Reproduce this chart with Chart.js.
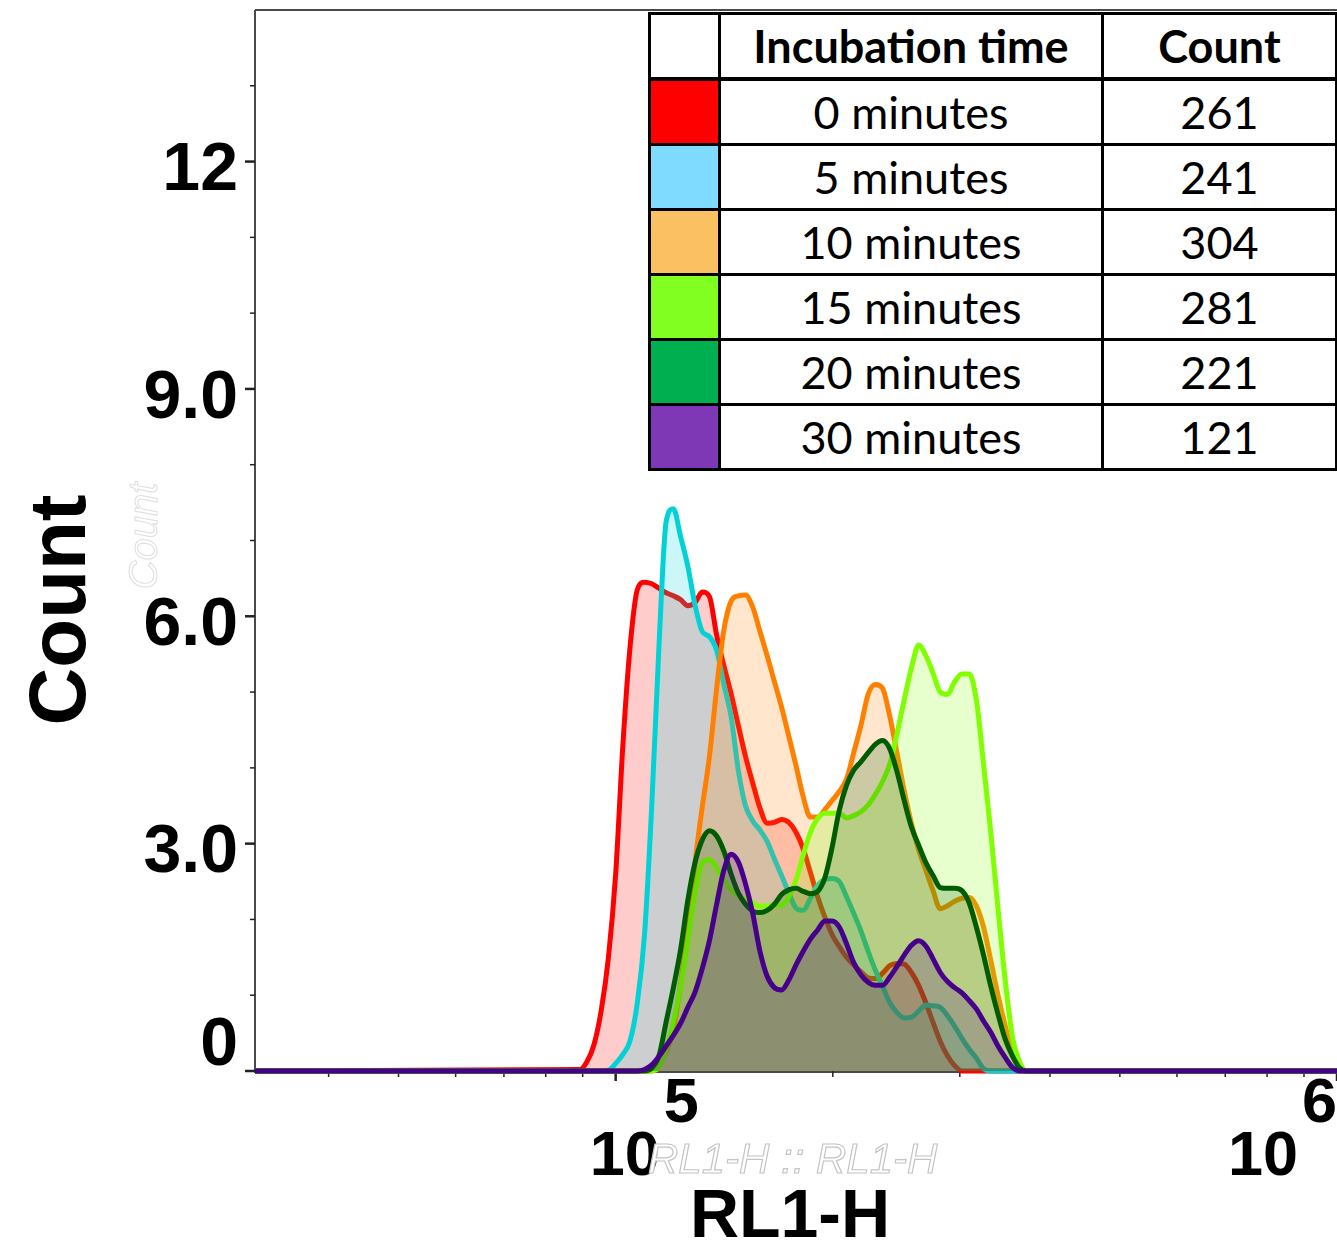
<!DOCTYPE html>
<html>
<head>
<meta charset="utf-8">
<script src="https://cdn.jsdelivr.net/npm/chart.js@4.4.1/dist/chart.umd.min.js"></script>
<style>
html,body{margin:0;padding:0;background:#fff;}
#wrap{position:relative;width:1337px;height:1244px;overflow:hidden;background:#fff;}
#c{position:absolute;left:0;top:0;}
#legend{position:absolute;left:648px;top:12px;width:687px;border-collapse:collapse;font-family:Lato,"Open Sans",sans-serif;font-size:45px;color:#000;background:#fff;table-layout:fixed;}
#legend td,#legend th{border:3.5px solid #000;padding:0;text-align:center;vertical-align:middle;line-height:1;}
#legend th{height:62px;font-weight:bold;border-bottom-width:4.5px;}
#legend td{height:62px;}
#legend td.sw{padding:0;}
</style>
</head>
<body>
<div id="wrap">
<canvas id="c" width="1337" height="1244"></canvas>
<table id="legend"><colgroup><col style="width:70px"><col style="width:383px"><col style="width:234px"></colgroup><tbody id="lbody"></tbody></table>
</div>
<script>
// ---- data ----
const bins = [89125, 91201, 93325, 95499, 97724, 100000, 102329, 104713, 107152, 109648,
  112202, 114815, 117490, 120226, 123027, 125893, 128825, 131826, 134896, 138038,
  141254, 144544, 147911, 151356, 154882, 158489, 162181, 165959, 169824, 173780,
  177828, 181970, 186209, 190546, 194984, 199526, 204174, 208930, 213796, 218776,
  223872, 229087, 234423, 239883, 245471, 251189, 257040, 263027, 269153, 275423,
  281838, 288403, 295121, 301995, 309030, 316228, 323594, 331131, 338844, 346737,
  354813, 363078, 371535];

const min0 = [0.02,0.12,0.35,0.8,1.5,2.6,4.3,5.6,6.35,6.45,
  6.43,6.37,6.31,6.27,6.22,6.14,6.18,6.32,6.26,5.75,
  5.35,4.98,4.56,4.15,3.8,3.47,3.27,3.28,3.32,3.28,
  3.15,2.93,2.62,2.3,2.03,1.8,1.64,1.5,1.4,1.31,
  1.23,1.22,1.29,1.39,1.42,1.41,1.3,1.13,0.9,0.64,
  0.39,0.2,0.07,0,0,0,0,0,0,0,
  0,0,0];
const min5 = [0,0,0,0,0.01,0.1,0.22,0.4,0.9,1.8,
  3.5,5.6,7.25,7.42,7.05,6.66,6.15,5.8,5.73,5.55,
  5.1,4.68,3.97,3.5,3.3,3.18,3.03,2.8,2.58,2.35,
  2.15,2.12,2.28,2.45,2.53,2.54,2.5,2.3,2.08,1.85,
  1.58,1.33,1.12,0.9,0.77,0.7,0.71,0.79,0.87,0.86,
  0.84,0.73,0.59,0.43,0.29,0.17,0.03,0,0,0,
  0,0,0];
const min10 = [0,0,0,0,0,0,0,0,0,0,
  0,0.08,0.25,0.55,1.15,1.9,2.75,3.48,4.15,5.05,
  5.82,6.2,6.27,6.28,6.12,5.8,5.48,5.14,4.8,4.42,
  4.03,3.62,3.35,3.35,3.45,3.57,3.69,3.85,4.2,4.56,
  4.97,5.1,5.05,4.68,4.2,3.7,3.27,2.92,2.65,2.38,
  2.14,2.18,2.24,2.28,2.29,2.18,1.9,1.46,1.0,0.6,
  0.25,0.05,0];
const min15 = [0,0,0,0,0,0,0,0,0,0,
  0,0.05,0.28,0.65,1.12,1.72,2.35,2.75,2.79,2.68,
  2.53,2.39,2.31,2.27,2.22,2.17,2.18,2.19,2.19,2.3,
  2.52,2.85,3.15,3.33,3.4,3.4,3.4,3.34,3.37,3.42,
  3.51,3.65,3.82,4.05,4.45,4.9,5.32,5.62,5.48,5.25,
  5.0,4.97,5.14,5.24,5.24,4.9,4.05,3.15,2.15,1.2,
  0.45,0.12,0];
const min20 = [0,0,0,0,0,0,0,0,0,0,
  0.04,0.2,0.65,1.1,1.6,2.25,2.75,3.05,3.17,3.1,
  2.9,2.6,2.35,2.2,2.11,2.09,2.12,2.2,2.33,2.39,
  2.41,2.37,2.34,2.37,2.55,2.95,3.44,3.77,3.97,4.08,
  4.2,4.31,4.36,4.25,3.95,3.57,3.22,2.98,2.75,2.58,
  2.42,2.41,2.41,2.38,2.22,1.9,1.53,1.12,0.75,0.42,
  0.2,0.04,0];
const min30 = [0,0,0,0,0,0,0,0,0,0.02,
  0.08,0.19,0.33,0.47,0.63,0.84,1.04,1.35,1.72,2.2,
  2.65,2.86,2.76,2.47,2.08,1.58,1.25,1.1,1.07,1.2,
  1.4,1.58,1.74,1.86,1.98,1.98,1.9,1.68,1.43,1.27,
  1.17,1.13,1.13,1.24,1.38,1.53,1.66,1.72,1.65,1.48,
  1.3,1.18,1.1,1.03,0.93,0.82,0.66,0.51,0.33,0.18,
  0.05,0,0];

const seriesNames = ['0 minutes','5 minutes','10 minutes','15 minutes','20 minutes','30 minutes'];
const seriesCounts = ['261','241','304','281','221','121'];
const xRange = [31622.8, 1000000];
const yRange = [0, 14];
const yMajorTicks = [0, 3, 6, 9, 12];
const yTickLabels = ['0', '3.0', '6.0', '9.0', '12'];
const yMinorTicks = [1, 2, 4, 5, 7, 8, 10, 11, 13];
const xMajorTicks = [100000, 1000000];
const xMajorExp = ['5', '6'];
const xMinorTicks = [40000, 50000, 60000, 70000, 80000, 90000, 200000, 300000, 400000, 500000, 600000, 700000, 800000, 900000];

// ---- styles ----
const lineColors = ['#ff0000', '#00d2d6', '#ff8000', '#80ff00', '#005c00', '#46008c'];
const fillColors = ['rgba(255,0,0,0.2)', 'rgba(0,210,214,0.2)', 'rgba(255,128,0,0.2)', 'rgba(128,255,0,0.2)', 'rgba(0,92,0,0.2)', 'rgba(70,0,140,0.2)'];
const swatchColors = ['#ff0000', '#7fdbff', '#fac062', '#80ff20', '#00b050', '#7f38b5'];
const allSeries = [min0, min5, min10, min15, min20, min30];

function toPoints(arr) {
  const pts = [{x: xRange[0], y: 0}];
  bins.forEach((b, i) => pts.push({x: b, y: arr[i]}));
  pts.push({x: xRange[1], y: 0});
  return pts;
}

const datasets = allSeries.map((arr, i) => ({
  label: seriesNames[i],
  data: toPoints(arr),
  borderColor: lineColors[i],
  backgroundColor: fillColors[i],
  borderWidth: 5,
  borderJoinStyle: 'round',
  fill: 'origin',
  pointRadius: 0,
  cubicInterpolationMode: 'monotone',
  order: allSeries.length - i,
  clip: 5
}));

const axesPlugin = {
  id: 'axesPlugin',
  beforeDatasetsDraw(chart) {
    const ctx = chart.ctx, a = chart.chartArea;
    const xs = chart.scales.x, ys = chart.scales.y;
    ctx.save();
    ctx.strokeStyle = '#4a4a4a';
    ctx.lineWidth = 2;
    ctx.beginPath();
    ctx.moveTo(a.left, a.top); ctx.lineTo(a.left, a.bottom + 2);
    ctx.moveTo(a.left, a.top); ctx.lineTo(a.right, a.top);
    ctx.moveTo(a.left, a.bottom + 1); ctx.lineTo(a.right, a.bottom + 1);
    ctx.stroke();
    ctx.strokeStyle = '#222';
    yMajorTicks.forEach(v => {
      const y = ys.getPixelForValue(v);
      ctx.lineWidth = 2.5;
      ctx.beginPath(); ctx.moveTo(a.left - 10, y); ctx.lineTo(a.left, y); ctx.stroke();
    });
    yMinorTicks.forEach(v => {
      const y = ys.getPixelForValue(v);
      ctx.lineWidth = 1.5;
      ctx.beginPath(); ctx.moveTo(a.left - 5, y); ctx.lineTo(a.left, y); ctx.stroke();
    });
    xMinorTicks.forEach(v => {
      const x = xs.getPixelForValue(v);
      ctx.lineWidth = 1.5;
      ctx.beginPath(); ctx.moveTo(x, a.bottom); ctx.lineTo(x, a.bottom + 6); ctx.stroke();
    });
    xMajorTicks.forEach(v => {
      const x = xs.getPixelForValue(v);
      ctx.lineWidth = 2.5;
      ctx.beginPath(); ctx.moveTo(x, a.bottom); ctx.lineTo(x, a.bottom + 10); ctx.stroke();
    });
    ctx.restore();
  },
  afterDraw(chart) {
    const ctx = chart.ctx, a = chart.chartArea;
    const xs = chart.scales.x, ys = chart.scales.y;
    ctx.save();
    ctx.fillStyle = '#000';
    ctx.font = 'bold 68px "Liberation Sans", Arial, sans-serif';
    ctx.textAlign = 'right';
    ctx.textBaseline = 'middle';
    yMajorTicks.forEach((v, i) => {
      const y = Math.min(ys.getPixelForValue(v) + 10, a.bottom - 25);
      ctx.fillText(yTickLabels[i], a.left - 17, y);
    });
    ctx.textAlign = 'left';
    ctx.textBaseline = 'alphabetic';
    ctx.font = 'bold 63px "Liberation Sans", Arial, sans-serif';
    xMajorTicks.forEach((v, i) => {
      const x = xs.getPixelForValue(v);
      const wBase = ctx.measureText('10').width;
      const wExp = ctx.measureText(xMajorExp[i]).width;
      const w = wBase + 4 + wExp;
      let left = x - 26;
      if (left + w > a.right) left = a.right - w;
      ctx.fillText('10', left, a.bottom + 104);
      ctx.fillText(xMajorExp[i], left + wBase + 4, a.bottom + 51);
    });
    // faint outlined ghost labels
    ctx.font = 'italic 42px "Liberation Sans", Arial, sans-serif';
    ctx.lineWidth = 1.2;
    ctx.strokeStyle = '#c4c4c4';
    ctx.fillStyle = '#fff';
    ctx.fillText('RL1-H :: RL1-H', 648, a.bottom + 102);
    ctx.strokeText('RL1-H :: RL1-H', 648, a.bottom + 102);
    ctx.save();
    ctx.translate(157, 536);
    ctx.rotate(-Math.PI / 2);
    ctx.textAlign = 'center';
    ctx.font = 'italic 40px "Liberation Sans", Arial, sans-serif';
    ctx.lineWidth = 1;
    ctx.strokeStyle = '#dedede';
    ctx.strokeText('Count', 0, 0);
    ctx.restore();
    ctx.fillStyle = '#000';
    ctx.font = 'bold 68px "Liberation Sans", Arial, sans-serif';
    ctx.textAlign = 'center';
    ctx.fillText('RL1-H', 790, 1237);
    ctx.save();
    ctx.translate(85, 610);
    ctx.rotate(-Math.PI / 2);
    ctx.font = 'bold 80px "Liberation Sans", Arial, sans-serif';
    ctx.textAlign = 'center';
    ctx.fillText('Count', 0, 0);
    ctx.restore();
    ctx.restore();
  }
};

new Chart(document.getElementById('c'), {
  type: 'line',
  data: { datasets },
  options: {
    responsive: false,
    animation: false,
    devicePixelRatio: 1,
    layout: { padding: { left: 255, top: 10, right: 0, bottom: 173 } },
    plugins: { legend: { display: false }, tooltip: { enabled: false }, filler: { propagate: false } },
    scales: {
      x: { type: 'logarithmic', min: xRange[0], max: xRange[1], display: false },
      y: { type: 'linear', min: yRange[0], max: yRange[1], display: false }
    }
  },
  plugins: [axesPlugin]
});

const tb = document.getElementById('lbody');
let html = '<tr><th></th><th>Incubation time</th><th>Count</th></tr>';
seriesNames.forEach((n, i) => {
  html += '<tr><td class="sw" style="background:' + swatchColors[i] + '"></td><td>' + n + '</td><td>' + seriesCounts[i] + '</td></tr>';
});
tb.innerHTML = html;
</script>
</body>
</html>
